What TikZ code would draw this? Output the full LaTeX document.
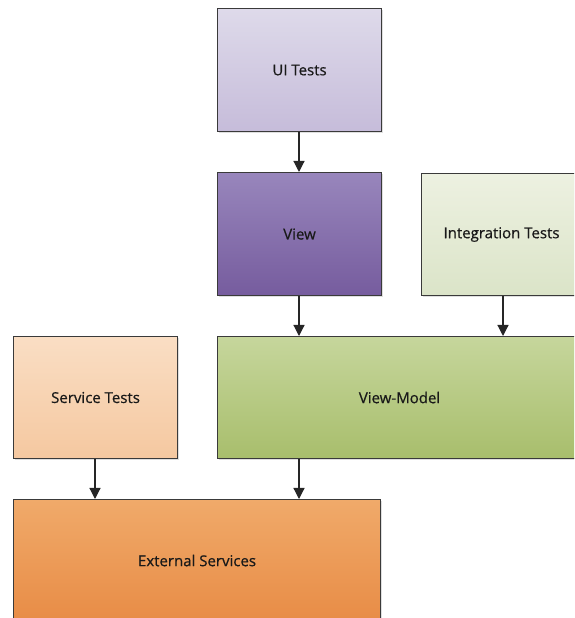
\documentclass[tikz,border=0pt]{standalone}
\usepackage{fontspec}
\setmainfont{Open Sans}
\newfontfamily\boxfont{Open Sans}[FakeBold=0.6]
\usetikzlibrary{arrows.meta,shadows}
\definecolor{bordc}{HTML}{3A3A3A}
\tikzset{
  box/.style={draw=bordc, line width=1.1pt, rectangle, inner sep=0pt, anchor=north west,
    font=\boxfont\fontsize{15}{18}\selectfont, text=black!90,
    drop shadow={shadow xshift=1.5pt, shadow yshift=-1.5pt, opacity=0.25, fill=gray}},
  arr/.style={draw=black!85, line width=1.2pt, -{Triangle[width=11pt,length=11pt]}}
}
\begin{document}
\begin{tikzpicture}[x=1pt,y=1pt]
\useasboundingbox (0,0) rectangle (574,618);
\clip (0,0) rectangle (574,618);
\node[box, minimum width=164, minimum height=123, top color={rgb,255:red,222;green,218;blue,234}, bottom color={rgb,255:red,198;green,188;blue,218}] (ui) at (217,610) {UI Tests};
\node[box, minimum width=164, minimum height=123, top color={rgb,255:red,152;green,134;blue,188}, bottom color={rgb,255:red,118;green,92;blue,158}] (view) at (217,446) {View};
\node[box, minimum width=160, minimum height=122, top color={rgb,255:red,237;green,241;blue,225}, bottom color={rgb,255:red,219;green,228;blue,200}] (integ) at (421,445) {Integration Tests};
\node[box, minimum width=164, minimum height=122, top color={rgb,255:red,250;green,222;blue,196}, bottom color={rgb,255:red,245;green,200;blue,160}] (svc) at (13,282) {Service Tests};
\node[box, minimum width=364, minimum height=122, top color={rgb,255:red,198;green,214;blue,156}, bottom color={rgb,255:red,168;green,190;blue,108}] (vm) at (217,282) {View-Model};
\node[box, minimum width=367, minimum height=122, top color={rgb,255:red,240;green,170;blue,106}, bottom color={rgb,255:red,232;green,140;blue,70}] (ext) at (13,119) {External Services};
\draw[arr] (ui.south -| 299,0) -- (view.north -| 299,0);
\draw[arr] (view.south -| 299,0) -- (vm.north -| 299,0);
\draw[arr] (integ.south -| 503,0) -- (vm.north -| 503,0);
\draw[arr] (svc.south -| 95,0) -- (ext.north -| 95,0);
\draw[arr] (vm.south -| 299,0) -- (ext.north -| 299,0);
\end{tikzpicture}
\end{document}
